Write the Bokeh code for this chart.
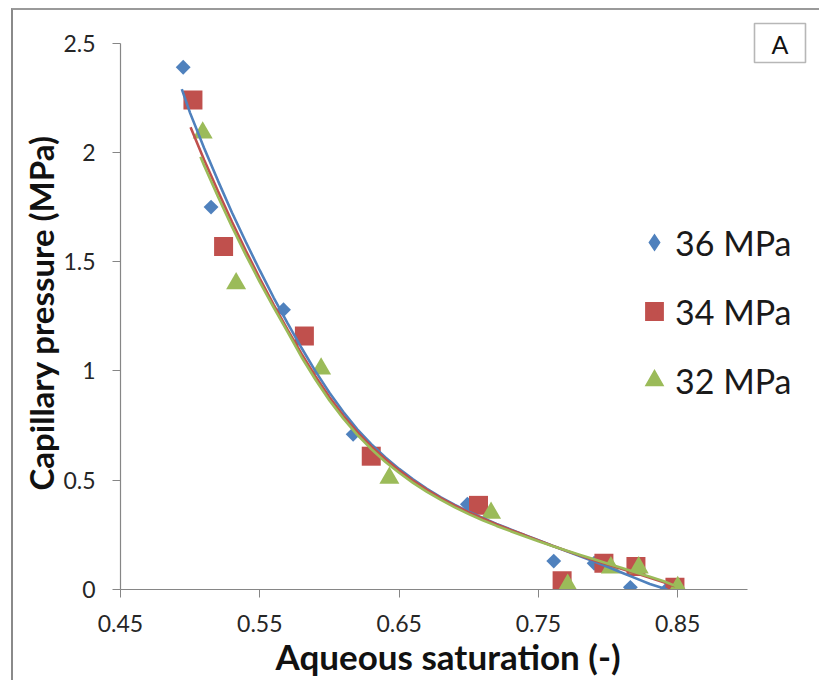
import math
from bokeh.plotting import figure
from bokeh.models import (Range1d, FixedTicker, NumeralTickFormatter, Legend, LegendItem,
                          BoxAnnotation, Label, Title)
from bokeh.embed import file_html
from bokeh.resources import INLINE

# ---------------- data ----------------
series_names = ["36 MPa", "34 MPa", "32 MPa"]
colors = ["#4F81BD", "#C0504D", "#9BBB59"]

sat_36 = [0.495, 0.515, 0.567, 0.617, 0.699, 0.761, 0.790, 0.816, 0.842]
pc_36 = [2.39, 1.75, 1.28, 0.71, 0.39, 0.13, 0.12, 0.01, 0.0]

sat_34 = [0.502, 0.524, 0.582, 0.630, 0.707, 0.767, 0.797, 0.820, 0.848]
pc_34 = [2.24, 1.57, 1.16, 0.61, 0.385, 0.04, 0.12, 0.105, 0.01]

sat_32 = [0.509, 0.533, 0.594, 0.643, 0.716, 0.771, 0.802, 0.822, 0.850]
pc_32 = [2.09, 1.40, 1.01, 0.51, 0.35, 0.02, 0.10, 0.10, 0.01]

# trend lines
fit_x_36 = [0.494, 0.50, 0.51, 0.52, 0.53, 0.54, 0.55, 0.56, 0.57, 0.58, 0.59, 0.60, 0.61,
            0.62, 0.63, 0.64, 0.65, 0.66, 0.67, 0.68, 0.69, 0.70, 0.71, 0.72, 0.73, 0.74,
            0.75, 0.76, 0.77, 0.78, 0.79, 0.80, 0.81, 0.82, 0.83, 0.8425]
fit_y_36 = [2.29, 2.18, 2.02, 1.87, 1.725, 1.59, 1.46, 1.335, 1.218, 1.105, 0.998, 0.90, 0.812,
            0.733, 0.665, 0.605, 0.552, 0.504, 0.461, 0.422, 0.387, 0.356, 0.327, 0.300, 0.275,
            0.250, 0.225, 0.200, 0.176, 0.152, 0.128, 0.103, 0.077, 0.051, 0.025, 0.0]

fit_x_34 = [0.5003, 0.51, 0.52, 0.53, 0.54, 0.55, 0.56, 0.57, 0.58, 0.59, 0.60, 0.61, 0.62,
            0.63, 0.64, 0.65, 0.66, 0.67, 0.68, 0.69, 0.70, 0.71, 0.72, 0.73, 0.74, 0.75,
            0.76, 0.77, 0.78, 0.79, 0.80, 0.81, 0.82, 0.83, 0.84, 0.848]
fit_y_34 = [2.115, 1.967, 1.822, 1.683, 1.55, 1.423, 1.303, 1.188, 1.078, 0.975, 0.88, 0.795,
            0.72, 0.655, 0.597, 0.545, 0.498, 0.456, 0.418, 0.384, 0.353, 0.325, 0.298, 0.273,
            0.249, 0.224, 0.200, 0.177, 0.155, 0.134, 0.114, 0.094, 0.074, 0.054, 0.033, 0.015]

fit_x_32 = [0.5074, 0.51, 0.52, 0.53, 0.54, 0.55, 0.56, 0.57, 0.58, 0.59, 0.60, 0.61, 0.62,
            0.63, 0.64, 0.65, 0.66, 0.67, 0.68, 0.69, 0.70, 0.71, 0.72, 0.73, 0.74, 0.75,
            0.76, 0.77, 0.78, 0.79, 0.80, 0.81, 0.82, 0.83, 0.84, 0.85]
fit_y_32 = [1.98, 1.94, 1.797, 1.66, 1.53, 1.407, 1.29, 1.178, 1.063, 0.96, 0.865, 0.782,
            0.708, 0.643, 0.585, 0.534, 0.488, 0.447, 0.41, 0.376, 0.345, 0.317, 0.291, 0.267,
            0.244, 0.221, 0.199, 0.178, 0.158, 0.138, 0.118, 0.098, 0.078, 0.058, 0.038, 0.012]

x_ticks = [0.45, 0.55, 0.65, 0.75, 0.85]
y_ticks = [0, 0.5, 1, 1.5, 2, 2.5]
x_title = "Aqueous saturation (-)"
y_title = "Capillary pressure (MPa)"
panel_tag = "A"

FONT = "Lato"

p = figure(width=808, height=672, output_backend="svg", toolbar_location=None,
           x_range=Range1d(0.45, 0.9532), y_range=Range1d(0, 2.6496),
           min_border_left=107, min_border_right=0, min_border_top=0, min_border_bottom=93,
           background_fill_color="white", border_fill_color="white",
           styles={"margin-left": "11px", "margin-top": "8px",
                   "border-left": "2px solid #8a8a8a", "border-top": "2px solid #9a9a9a"})
p.outline_line_color = None
p.grid.visible = False
# a range far from the data: the legend-only glyphs are mapped there, so only the legend shows them
p.extra_y_ranges = {"legend_only": Range1d(100, 101)}

for ax in (p.xaxis[0], p.yaxis[0]):
    ax.axis_line_color = "#868686"
    ax.axis_line_width = 1.2
    ax.major_tick_line_color = "#868686"
    ax.major_tick_out = 8
    ax.major_tick_in = 0
    ax.minor_tick_line_color = None
    ax.major_label_text_font = FONT
    ax.major_label_text_font_size = "23px"
    ax.major_label_text_color = "#262626"

p.xaxis[0].ticker = FixedTicker(ticks=x_ticks)
p.xaxis[0].formatter = NumeralTickFormatter(format="0.00")
p.xaxis[0].bounds = (x_ticks[0], 0.90)
p.xaxis[0].major_label_standoff = 17
p.yaxis[0].ticker = FixedTicker(ticks=y_ticks)
p.yaxis[0].formatter = NumeralTickFormatter(format="0.[0]")
p.yaxis[0].bounds = (y_ticks[0], y_ticks[-1])
p.yaxis[0].major_label_standoff = 17

# axis titles as side titles so that they can be placed like the original
t_x = Title(text=x_title, align="left", offset=155, vertical_align="top", standoff=0,
            text_font=FONT, text_font_style="bold", text_font_size="35px",
            text_color="#111111")
p.add_layout(t_x, "below")
t_y = Title(text=y_title, align="left", offset=99, vertical_align="bottom", standoff=0,
            text_font=FONT, text_font_style="bold", text_font_size="33px",
            text_color="#111111")
p.add_layout(t_y, "left")

# markers
p.scatter(sat_36, pc_36, marker="square", angle=math.pi / 4, size=10.5,
          fill_color=colors[0], line_color=None)
p.scatter(sat_34, pc_34, marker="square", size=19, fill_color=colors[1], line_color=None)
p.scatter(sat_32, pc_32, marker="triangle", size=20, fill_color=colors[2], line_color=None)

# trend lines
p.line(fit_x_36, fit_y_36, line_color=colors[0], line_width=2.6)
p.line(fit_x_34, fit_y_34, line_color=colors[1], line_width=2.6)
p.line(fit_x_32, fit_y_32, line_color=colors[2], line_width=2.6)

# legend-only glyphs
lg1 = p.scatter(sat_36, pc_36, y_range_name="legend_only",
                marker="diamond", fill_color=colors[0], line_color=colors[0],
                line_width=3, line_join="miter")
lg2 = p.scatter(sat_34, pc_34, y_range_name="legend_only",
                marker="square", fill_color=colors[1], line_color=colors[1],
                line_width=6, line_join="miter")
lg3 = p.scatter(sat_32, pc_32, y_range_name="legend_only",
                marker="triangle", fill_color=colors[2], line_color=colors[2],
                line_width=4, line_join="miter")

legend = Legend(items=[LegendItem(label=series_names[0], renderers=[lg1]),
                       LegendItem(label=series_names[1], renderers=[lg2]),
                       LegendItem(label=series_names[2], renderers=[lg3])],
                location=(518, 188), orientation="vertical",
                border_line_color=None, background_fill_alpha=0,
                glyph_width=32, glyph_height=42, label_height=42, spacing=27,
                padding=0, margin=0, label_standoff=5,
                label_text_font=FONT, label_text_font_size="34px",
                label_text_color="#1a1a1a", label_text_baseline="middle")
p.add_layout(legend)

# panel tag "A"
tag_box = BoxAnnotation(left=739, right=790, top=11, bottom=50,
                        left_units="canvas", right_units="canvas",
                        top_units="canvas", bottom_units="canvas",
                        fill_alpha=0, line_color="#111111", line_width=1.6)
p.add_layout(tag_box)
tag = Label(x=764.5, y=31, x_units="canvas", y_units="canvas", text=panel_tag,
            text_align="center", text_baseline="middle", text_font=FONT,
            text_font_size="25px", text_color="#111111", level="overlay")
p.add_layout(tag)

open("out.html", "w").write(file_html(p, INLINE))
